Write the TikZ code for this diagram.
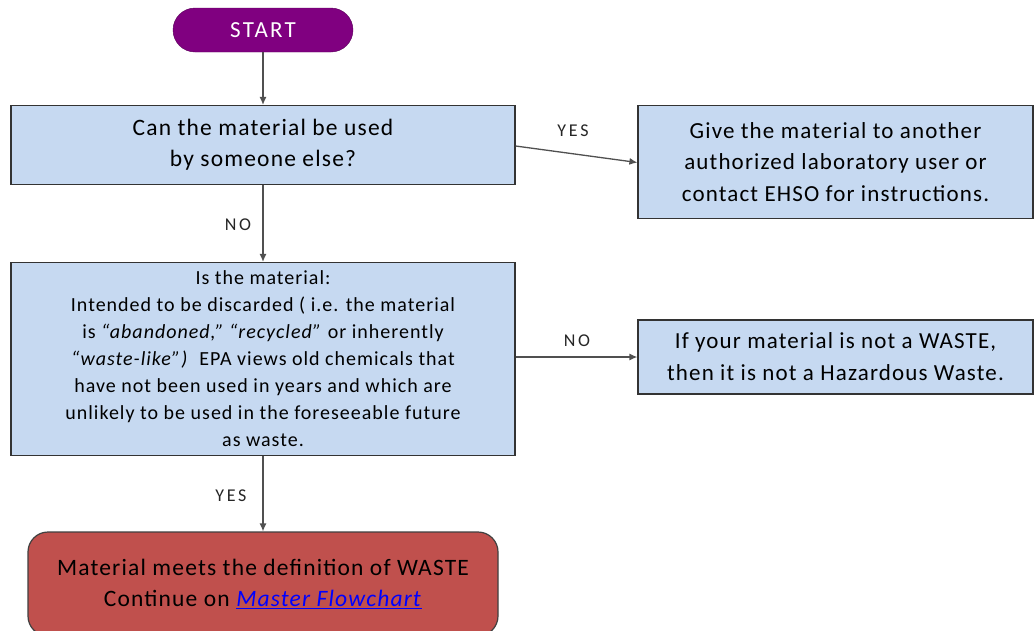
\documentclass[tikz,border=0pt]{standalone}
\usepackage{fontspec}
\setmainfont{Carlito}
\newfontfamily\boxfont[LetterSpace=5]{Carlito}
\newfontfamily\widefont[LetterSpace=10]{Carlito}
\newfontfamily\lblfont[LetterSpace=15]{Carlito}
\usetikzlibrary{arrows.meta,calc}
\definecolor{boxblue}{HTML}{C6D9F1}
\definecolor{startpurple}{HTML}{800080}
\definecolor{wastered}{HTML}{C0504D}
\definecolor{linegray}{HTML}{505050}
\begin{document}
\begin{tikzpicture}[x=1pt,y=-1pt,
  qbox/.style={draw=black!80,line width=1.2pt,fill=boxblue,align=center,inner sep=0pt},
  conn/.style={draw=linegray,line width=1.3pt,-{Latex[length=8pt,width=7pt]}},
  lbl/.style={font=\lblfont\fontsize{18}{20}\selectfont,text=black!85}]
\clip (0,0) rectangle (1035,630);
\fill[white] (0,0) rectangle (1035,630);

% start terminal
\node[fill=startpurple,draw=startpurple!70!black,rounded corners=22pt,
  minimum width=180pt,minimum height=44pt,text=white,
  font=\widefont\fontsize{23}{26}\selectfont] (start) at (263,30) {START};

% first question
\node[qbox,minimum width=504pt,minimum height=79pt,
  font=\boxfont\fontsize{23.5}{31}\selectfont] (q1) at (263,145)
  {Can the material be used\\by someone else?};

\node[qbox,minimum width=395pt,minimum height=113pt,
  font=\boxfont\fontsize{23}{31.5}\selectfont] (give) at (835.5,162)
  {Give the material to another\\authorized laboratory user or\\contact EHSO for instructions.};

% second question
\node[qbox,minimum width=504pt,minimum height=193pt,
  font=\boxfont\fontsize{20}{27}\selectfont] (q2) at (263,359)
  {Is the material:\\Intended to be discarded ( i.e. the material\\is \textit{“abandoned,” “recycled”} or inherently\\\textit{“waste-like”)}\ \ EPA views old chemicals that\\have not been used in years and which are\\unlikely to be used in the foreseeable future\\as waste.};

\node[qbox,minimum width=395pt,minimum height=74pt,
  font=\boxfont\fontsize{23}{32}\selectfont] (notw) at (835.5,357)
  {If your material is not a WASTE,\\then it is not a Hazardous Waste.};

% outcome
\node[fill=wastered,draw=black!75,line width=1.2pt,rounded corners=20pt,
  minimum width=470pt,minimum height=104pt,align=center,inner sep=0pt,
  font=\boxfont\fontsize{23.5}{31}\selectfont] (waste) at (263,584)
  {Material meets the definition of WASTE\\Continue on \textcolor{blue}{\underline{\textit{Master Flowchart}}}};

% connectors
\draw[conn] (start.south) -- (q1.north);
\draw[conn] ($(q1.east)+(0,1)$) -- ($(give.west)+(0,0.5)$);
\draw[conn] (q1.south) -- (q2.north);
\draw[conn] (q2.east |- notw.west) -- (notw.west);
\draw[conn] (q2.south) -- (waste.north);

% connector labels
\node[lbl] (lyes1) at (573,131) {YES};
\node[lbl] (lno1) at (238,225) {NO};
\node[lbl] (lno2) at (577,341) {NO};
\node[lbl] (lyes2) at (231,496) {YES};
\end{tikzpicture}
\end{document}
